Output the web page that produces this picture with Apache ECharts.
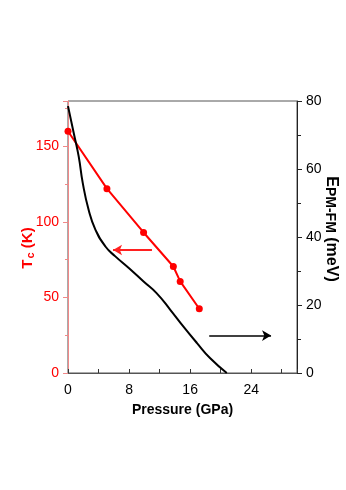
<!DOCTYPE html>
<html>
<head>
<meta charset="utf-8">
<script src="https://cdn.jsdelivr.net/npm/echarts@6/dist/echarts.min.js"></script>
<style>
html,body{margin:0;padding:0;background:#fff;}
#chart{width:346px;height:490px;}
</style>
</head>
<body>
<div id="chart"></div>
<script>
// Tc vs pressure (left axis, K)
var tcPressure = [0, 5.1, 9.9, 13.8, 14.7, 17.2];
var tcValues = [160, 122, 93, 70.5, 60.6, 42.5];

// E(PM-FM) vs pressure (right axis, meV)
var ePressure = [0, 0.75, 1.4, 1.93, 2.7, 3.6, 4.9, 6.2, 8.0, 9.9, 11.6, 13.4, 15.1, 16.9, 18.6, 20.8];
var eValues = [78.5, 70.6, 63.7, 55.9, 48, 42.1, 37.2, 34.3, 30.8, 26.9, 23.5, 18.6, 13.7, 8.8, 4.4, 0];

// arrows: [xStart, xEnd, y]
var tcArrow = [11.0, 5.9, 81.4];
var eArrow = [18.5, 26.6, 11.0];

var chart = echarts.init(document.getElementById('chart'));

function pairs(xs, ys){
    var res = [];
    for (var i = 0; i < xs.length; i++){
        res.push([xs[i], ys[i]]);
    }
    return res;
}

var font = 'Liberation Sans, Arial, sans-serif';

var option = {
    animation: false,
    grid: {left: 68, right: 49, top: 101, bottom: 117, outerBoundsMode: 'none',
           show: true, borderColor: '#555', borderWidth: 1},
    xAxis: {
        type: 'value', min: 0, max: 30, interval: 8,
        axisLine: {lineStyle: {color: '#555', width: 1}},
        axisTick: {inside: true, length: 4, lineStyle: {color: '#333'}},
        minorTick: {show: true, splitNumber: 2, length: 4, lineStyle: {color: '#333'}},
        splitLine: {show: false},
        axisLabel: {color: '#000', fontSize: 14, fontFamily: font, margin: 10, showMaxLabel: false},
        name: 'Pressure (GPa)', nameLocation: 'middle', nameGap: 30, nameMoveOverlap: false,
        nameTextStyle: {color: '#000', fontSize: 14, fontWeight: 'bold', fontFamily: font}
    },
    yAxis: [{
        type: 'value', min: 0, max: 180, interval: 50, position: 'left',
        axisLine: {show: true, lineStyle: {color: '#f08888', width: 1}},
        axisTick: {show: true, length: 5, lineStyle: {color: '#f08888'}},
        minorTick: {show: true, splitNumber: 2, length: 3, lineStyle: {color: '#f08888'}},
        splitLine: {show: false},
        axisLabel: {color: '#ff0000', fontSize: 14, fontFamily: font, margin: 9, showMaxLabel: false},
        name: '{b|T}{s|c}{b| (K)}', nameLocation: 'middle', nameGap: 31, nameRotate: 90, nameMoveOverlap: false,
        nameTextStyle: {
            padding: [0, 22, 0, 0],
            rich: {
                b: {color: '#ff0000', fontSize: 15, fontWeight: 'bold', fontFamily: font, lineHeight: 18},
                s: {color: '#ff0000', fontSize: 11, fontWeight: 'bold', fontFamily: font, lineHeight: 18, padding: [6, 0, 0, 1]}
            }
        }
    }, {
        type: 'value', min: 0, max: 80, interval: 20, position: 'right',
        axisLine: {show: true, lineStyle: {color: '#222', width: 1}},
        axisTick: {show: true, length: 5, lineStyle: {color: '#222'}},
        minorTick: {show: true, splitNumber: 2, length: 4, lineStyle: {color: '#222'}},
        splitLine: {show: false},
        axisLabel: {color: '#000', fontSize: 14, fontFamily: font, margin: 9},
        name: '{b|E}{s|PM-FM}{b| (meV)}', nameLocation: 'middle', nameGap: 25, nameRotate: -90, nameMoveOverlap: false,
        nameTextStyle: {
            padding: [0, 16, 0, 0],
            rich: {
                b: {color: '#000', fontSize: 16, fontWeight: 'bold', fontFamily: font, lineHeight: 18},
                s: {color: '#000', fontSize: 14, fontWeight: 'bold', fontFamily: font, lineHeight: 18, padding: [3, 0, 0, 0]}
            }
        }
    }],
    series: [{
        type: 'line', yAxisIndex: 0, data: pairs(tcPressure, tcValues),
        symbol: 'circle', symbolSize: 7,
        lineStyle: {color: '#ff0000', width: 2},
        itemStyle: {color: '#ff0000'},
        markLine: {
            silent: true, symbol: ['none', 'arrow'], symbolSize: [8, 9],
            label: {show: false},
            lineStyle: {color: '#ff2020', width: 2, type: 'solid'},
            data: [[{coord: [tcArrow[0], tcArrow[2]]}, {coord: [tcArrow[1], tcArrow[2]]}]]
        }
    }, {
        type: 'line', yAxisIndex: 1, data: pairs(ePressure, eValues),
        smooth: 0.5, symbol: 'none',
        lineStyle: {color: '#000', width: 2},
        markLine: {
            silent: true, symbol: ['none', 'arrow'], symbolSize: [8, 9],
            label: {show: false},
            lineStyle: {color: '#000', width: 1.5, type: 'solid'},
            data: [[{coord: [eArrow[0], eArrow[2]]}, {coord: [eArrow[1], eArrow[2]]}]]
        }
    }]
};

chart.setOption(option);
</script>
</body>
</html>
